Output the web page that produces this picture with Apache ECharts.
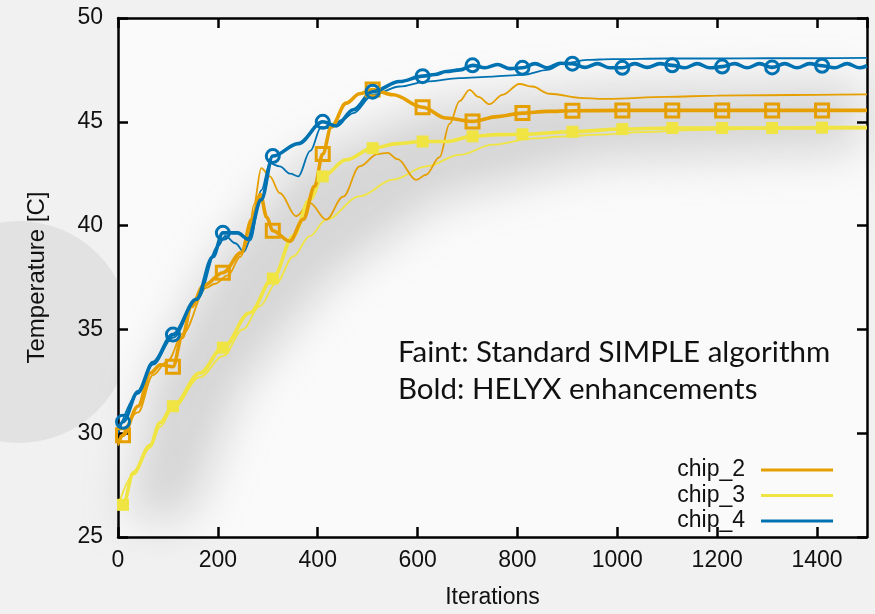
<!DOCTYPE html>
<html>
<head>
<meta charset="utf-8">
<script src="https://cdn.jsdelivr.net/npm/echarts@6/dist/echarts.min.js"></script>
<style>
  html, body { margin: 0; padding: 0; background: #f2f2f2; }
  #chart { width: 875px; height: 614px; }
</style>
</head>
<body>
<div id="chart"></div>
<script>
// iteration / temperature pairs
const boldChip2 = [[0,29.5],[10,29.9],[40,31.3],[65,32.9],[85,33.3],[110,33.2],[128,34.6],[147,36.1],[171,37.1],[210,37.73],[247,38.7],[268,40.3],[285,41.5],[298,40.4],[310,39.75],[344,39.25],[371,40.3],[394,41.9],[410,43.45],[427,44.75],[457,45.9],[484,46.35],[510,46.55],[551,46.3],[610,45.7],[657,45.18],[710,45.02],[760,45.25],[810,45.42],[860,45.5],[910,45.53],[1010,45.55],[1110,45.55],[1210,45.55],[1310,45.55],[1410,45.55],[1500,45.55]];
const boldChip3 = [[0,26.5],[10,26.55],[31,28.1],[64,29.4],[84,30.5],[110,31.3],[164,32.9],[210,34.12],[264,35.8],[310,37.45],[351,39.5],[384,41.25],[410,42.37],[457,43.17],[510,43.73],[560,43.95],[610,44.05],[657,44.05],[710,44.3],[760,44.38],[810,44.4],[910,44.52],[1010,44.65],[1110,44.7],[1210,44.7],[1310,44.7],[1410,44.72],[1500,44.72]];
const boldChip4 = [[0,30.1],[10,30.55],[40,32.0],[70,33.4],[110,34.75],[157,36.45],[190,38.5],[210,39.65],[240,39.65],[260,39.35],[287,41.25],[310,43.35],[361,43.95],[410,45.0],[437,44.8],[471,45.58],[510,46.45],[564,46.94],[610,47.2],[635,47.28],[657,47.42],[685,47.5],[710,47.72],[735,47.6],[760,47.76],[785,47.56],[810,47.6],[835,47.8],[860,47.6],[885,47.82],[910,47.8],[935,47.62],[960,47.8],[985,47.6],[1010,47.6],[1035,47.8],[1060,47.62],[1085,47.8],[1110,47.72],[1135,47.6],[1160,47.8],[1185,47.6],[1210,47.66],[1235,47.8],[1260,47.6],[1285,47.8],[1310,47.62],[1335,47.8],[1360,47.6],[1385,47.8],[1410,47.7],[1435,47.6],[1460,47.8],[1485,47.6],[1500,47.7]];

const faintChip2 = [[0,29.4],[40,31.0],[70,32.8],[100,33.5],[130,34.8],[177,37.0],[194,37.2],[220,37.6],[245,38.5],[261,39.3],[272,41.0],[287,42.77],[304,42.37],[324,41.57],[357,40.45],[384,41.09],[417,40.29],[451,41.4],[484,42.85],[520,43.45],[540,43.5],[560,43.2],[597,42.2],[617,42.45],[644,43.3],[664,44.9],[684,46.0],[704,46.54],[722,46.2],[744,45.85],[770,46.3],[804,46.82],[830,46.7],[864,46.35],[931,46.14],[980,46.1],[1100,46.2],[1200,46.26],[1300,46.28],[1400,46.3],[1500,46.32]];
const faintChip3 = [[0,26.5],[31,28.0],[64,29.3],[84,30.3],[110,31.2],[164,32.7],[211,33.72],[250,35.0],[284,36.12],[317,37.24],[351,38.52],[384,39.49],[417,40.29],[484,41.41],[551,42.21],[617,42.85],[684,43.41],[751,43.9],[831,44.2],[897,44.3],[964,44.38],[1050,44.5],[1150,44.6],[1250,44.65],[1500,44.68]];
const faintChip4 = [[0,30.0],[40,31.9],[70,33.3],[110,34.6],[160,36.5],[200,39.0],[215,39.5],[235,39.15],[252,38.75],[265,39.3],[287,41.7],[304,43.0],[324,42.85],[345,42.5],[361,42.37],[385,43.6],[407,44.75],[424,44.7],[450,45.1],[471,45.42],[511,46.3],[564,46.7],[617,46.94],[684,47.1],[750,47.18],[811,47.26],[860,47.5],[891,47.8],[940,47.98],[990,48.02],[1100,48.05],[1200,48.05],[1300,48.06],[1400,48.06],[1500,48.08]];

const chipNames = ['chip_2', 'chip_3', 'chip_4'];
const chipColors = ['#E69F00', '#F0E442', '#0072B2'];
const noteLines = ['Faint: Standard SIMPLE algorithm', 'Bold: HELYX enhancements'];

// markers sit on every 100th iteration, offset by 10
const marks = arr => arr.filter(p => p[0] % 100 === 10);

let chart = echarts.init(document.getElementById('chart'), null, { renderer: 'canvas' });

function ticks() {
    return { show: true, inside: true, length: 10, lineStyle: { color: '#000', width: 2.5 } };
}
function frameLine() {
    return { show: true, onZero: false, lineStyle: { color: '#000', width: 2.5 } };
}
const labelFont = { fontFamily: 'Liberation Sans', fontSize: 23, color: '#111' };

function faint(name, data, color) {
    return { name: name + ' faint', type: 'line', data, smooth: 0.35, smoothMonotone: 'x', showSymbol: false,
        color, lineStyle: { width: 1.8, color }, z: 2, silent: true };
}
function bold(name, data, color) {
    return { name, type: 'line', data, smooth: 0.35, smoothMonotone: 'x', showSymbol: false,
        color, lineStyle: { width: 3.6, color }, z: 3, silent: true };
}

// soft grey blobs behind the plot: shapes drawn off-screen, only their blurred shadow shows
const OFF = 2000;
function blob(points, blur, color) {
    return { type: 'polygon', silent: true, z: -8,
        shape: { points: points.map(p => [p[0] - OFF, p[1]]) },
        style: { fill: '#000', shadowBlur: blur, shadowColor: color, shadowOffsetX: OFF } };
}

chart.setOption({
    backgroundColor: '#f1f1f1',
    animation: false,
    grid: { left: 118, top: 18, right: 8, bottom: 76, show: false },
    graphic: [
        { type: 'circle', shape: { cx: 19, cy: 332, r: 111 }, style: { fill: '#e2e2e2' }, z: -10, silent: true },
        { type: 'rect', shape: { x: 118, y: 18, width: 749, height: 520 }, style: { fill: '#fafafa' }, z: -9, silent: true },
        blob([[125, 520], [150, 380], [215, 260], [300, 160], [430, 105], [600, 88], [860, 82], [860, 150], [600, 160], [440, 200], [330, 280], [240, 390], [190, 520]], 45, 'rgba(150,150,150,0.36)'),
        { type: 'text', left: 398, top: 337, style: { text: noteLines[0], font: '29.5px Lato', fill: '#111' }, z: 10 },
        { type: 'text', left: 398, top: 374, style: { text: noteLines[1], font: '29.5px Lato', fill: '#111' }, z: 10 }
    ],
    legend: {
        data: chipNames, orient: 'vertical', right: 37, top: 453, align: 'right',
        icon: 'rect', itemWidth: 72, itemHeight: 3, itemGap: 1.5,
        textStyle: { fontFamily: 'Liberation Sans', fontSize: 23, color: '#111', lineHeight: 24, padding: [0, 11, 0, 0] }
    },
    xAxis: [{
        type: 'value', min: 0, max: 1500, interval: 200,
        name: 'Iterations', nameLocation: 'middle', nameGap: 49,
        nameTextStyle: { fontFamily: 'Liberation Sans', fontSize: 23, color: '#111' },
        axisLine: frameLine(), axisTick: ticks(), splitLine: { show: false },
        axisLabel: Object.assign({ margin: 12, showMaxLabel: false, formatter: v => String(v) }, labelFont)
    }, {
        type: 'value', min: 0, max: 1500, interval: 200, position: 'top',
        axisLine: frameLine(), axisTick: ticks(), splitLine: { show: false }, axisLabel: { show: false }
    }],
    yAxis: [{
        type: 'value', min: 25, max: 50, interval: 5,
        name: 'Temperature [C]', nameLocation: 'middle', nameGap: 69, nameRotate: 90,
        nameTextStyle: { fontFamily: 'Liberation Sans', fontSize: 24, color: '#111' },
        axisLine: frameLine(), axisTick: ticks(), splitLine: { show: false },
        axisLabel: Object.assign({ margin: 15, formatter: v => String(v) }, labelFont)
    }, {
        type: 'value', min: 25, max: 50, interval: 5, position: 'right',
        axisLine: frameLine(), axisTick: ticks(), splitLine: { show: false }, axisLabel: { show: false }
    }],
    series: [
        faint(chipNames[1], faintChip3, chipColors[1]),
        faint(chipNames[0], faintChip2, chipColors[0]),
        faint(chipNames[2], faintChip4, chipColors[2]),
        bold(chipNames[1], boldChip3, chipColors[1]),
        bold(chipNames[0], boldChip2, chipColors[0]),
        bold(chipNames[2], boldChip4, chipColors[2]),
        { name: 'chip_3 marks', type: 'scatter', data: marks(boldChip3), symbol: 'rect', symbolSize: 12,
          itemStyle: { color: chipColors[1], opacity: 1 }, z: 4, silent: true },
        { name: 'chip_2 marks', type: 'scatter', data: marks(boldChip2), symbol: 'rect', symbolSize: 13,
          itemStyle: { color: 'rgba(0,0,0,0)', borderColor: chipColors[0], borderWidth: 3, opacity: 1 }, z: 4, silent: true },
        { name: 'chip_4 marks', type: 'scatter', data: marks(boldChip4), symbol: 'circle', symbolSize: 13,
          itemStyle: { color: 'rgba(0,0,0,0)', borderColor: chipColors[2], borderWidth: 3, opacity: 1 }, z: 5, silent: true }
    ]
});
</script>
</body>
</html>
